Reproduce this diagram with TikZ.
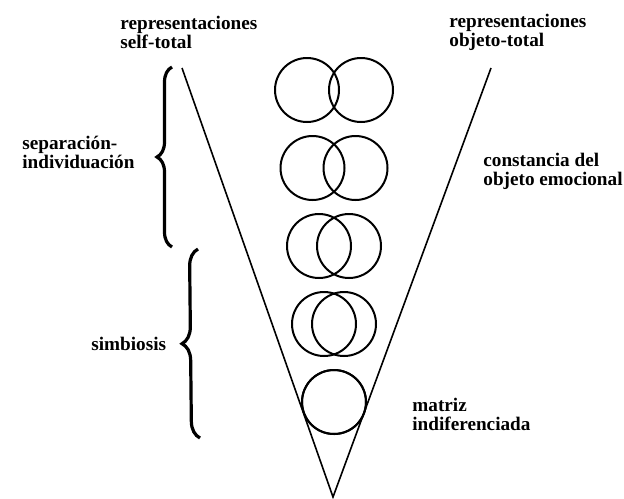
\documentclass[tikz,border=0pt]{standalone}
\usepackage{fontspec}
\setmainfont{Liberation Serif}
\usetikzlibrary{decorations.pathreplacing}

\begin{document}
\begin{tikzpicture}[x=0.5pt, y=-0.5pt,
    etiqueta/.style={font=\bfseries\fontsize{9.6}{9.3}\selectfont, align=left, anchor=base west, inner sep=0pt},
    circulo/.style={line width=1pt},
    llave/.style={decorate, decoration={brace, amplitude=#1}, line width=1.6pt}]
    \useasboundingbox (0,0) rectangle (624,498);

    \coordinate (apex) at (333, 497);
    \coordinate (ltop) at (182, 68);
    \coordinate (rtop) at (491, 68);

    \pgfmathsetmacro{\cx}{334}
    \pgfmathsetmacro{\rad}{32}

    % la V
    \draw[line width=0.8pt] (ltop) -- (apex) -- (rtop);

    % pares de circulos, cada vez mas juntos
    \foreach \fila/\sep in {0/27, 1/21.5, 2/15, 3/10, 4/0} {
        \draw[circulo] (\cx-\sep, 90+78*\fila) circle (\rad);
        \draw[circulo] (\cx+\sep, 90+78*\fila) circle (\rad);
    }

    % llaves
    \coordinate (sepA) at (172, 247);
    \coordinate (sepB) at (172, 67);
    \coordinate (simA) at (200, 438);
    \coordinate (simB) at (198, 249);
    \draw[llave=7.5pt] (sepA) -- (sepB);
    \draw[llave=8.5pt] (simA) -- (simB);

    % textos (anclados en la linea base de la ultima linea)
    \node[etiqueta] (selftot) at (120, 48) {representaciones\\self-total};
    \node[etiqueta] (objtot) at (449, 46) {representaciones\\objeto-total};
    \node[etiqueta] (constancia) at (483, 185) {constancia del\\objeto emocional};
    \node[etiqueta] (separacion) at (22, 168) {separación-\\individuación};
    \node[etiqueta] (simbiosis) at (91, 350) {simbiosis};
    \node[etiqueta] (matriz) at (412, 430) {matriz\\indiferenciada};

\end{tikzpicture}
\end{document}
